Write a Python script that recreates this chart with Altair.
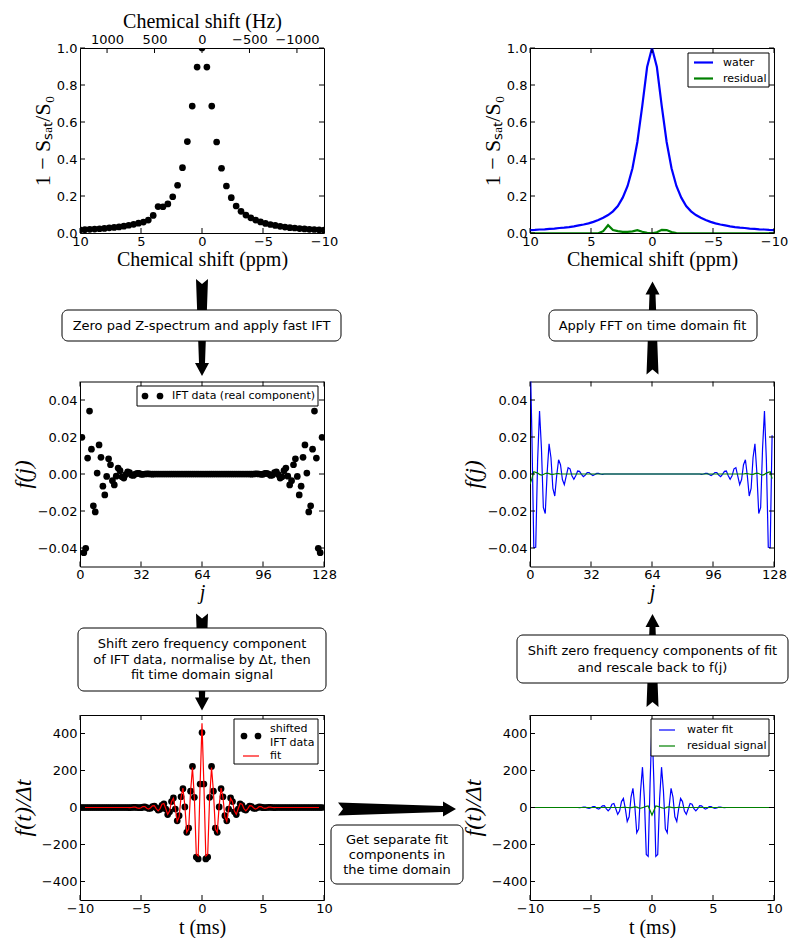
import altair as alt
import pandas as pd

W, H = 244, 185
TICK = 5
LABEL_FONT = "DejaVu Sans"
TITLE_FONT = "Liberation Serif"
BLUE, GREEN, RED = "#0000ff", "#008000", "#ff0000"

# ---------------- frequency domain (ppm) ----------------
PPM = [10.0, 9.6, 9.2, 8.8, 8.4, 8.0, 7.6, 7.2, 6.8, 6.4,
       6.0, 5.6, 5.2, 4.8, 4.4, 4.0, 3.6, 3.2, 2.8, 2.4,
       2.0, 1.6, 1.2, 0.8, 0.4, 0.0,
       -0.4, -0.8, -1.2, -1.6, -2.0, -2.4, -2.8, -3.2, -3.6, -4.0,
       -4.4, -4.8, -5.2, -5.6, -6.0, -6.4, -6.8, -7.2, -7.6, -8.0,
       -8.4, -8.8, -9.2, -9.6, -10.0]
Z_SPECTRUM = [0.017, 0.018, 0.020, 0.021, 0.023, 0.025, 0.028, 0.030, 0.033, 0.037,
              0.042, 0.047, 0.053, 0.059, 0.070, 0.095, 0.143, 0.142, 0.157, 0.196,
              0.258, 0.353, 0.494, 0.686, 0.897, 1.000,
              0.897, 0.686, 0.492, 0.350, 0.254, 0.191, 0.146, 0.117, 0.097, 0.082,
              0.070, 0.060, 0.052, 0.046, 0.041, 0.036, 0.032, 0.029, 0.027, 0.024,
              0.022, 0.020, 0.019, 0.017, 0.016]
WATER_PPM = [0.016, 0.017, 0.019, 0.020, 0.022, 0.024, 0.027, 0.029, 0.032, 0.036,
             0.041, 0.046, 0.052, 0.060, 0.070, 0.082, 0.097, 0.117, 0.146, 0.191,
             0.254, 0.350, 0.492, 0.686, 0.897, 1.000,
             0.897, 0.686, 0.492, 0.350, 0.254, 0.191, 0.146, 0.117, 0.097, 0.082,
             0.070, 0.060, 0.052, 0.046, 0.041, 0.036, 0.032, 0.029, 0.027, 0.024,
             0.022, 0.020, 0.019, 0.017, 0.016]
RESIDUAL_PPM = [-0.002, -0.002, -0.002, -0.002, -0.002, -0.002, -0.002, -0.002, -0.002, -0.002,
                -0.002, -0.002, -0.002, -0.002, -0.002, 0.010, 0.042, 0.016, 0.010, 0.006,
                0.006, 0.009, 0.015, 0.007, 0.001, -0.002,
                0.004, 0.017, 0.016, 0.005, 0.000, -0.002, -0.002, -0.002, -0.002, -0.002,
                -0.002, -0.002, -0.002, -0.002, -0.002, -0.002, -0.002, -0.002, -0.002, -0.002,
                -0.002, -0.002, -0.002, -0.002, -0.002]

# ---------------- index domain (j) ----------------
J_INDEX = list(range(128))
IFT_DATA = ([0.0633, 0.0198, -0.0425, -0.0402, 0.0086, 0.0340, 0.0134, -0.0172, -0.0205, 0.0005,
             0.0157, 0.0090, -0.0066, -0.0113, -0.0013, 0.0082, 0.0050, -0.0036, -0.0059, -0.0012,
             0.0032, 0.0018, -0.0015, -0.0022, -0.0003, 0.0012, 0.0008, -0.0006, -0.0008, 0.0000,
             0.0004, 0.0003, -0.0002, -0.0002, 0.0000, 0.0001, 0.0001, 0.0000, -0.0001, 0.0000]
            + [0.0] * 50 +
            [-0.0001, 0.0000, 0.0001, 0.0001, 0.0000, -0.0002, -0.0002, 0.0003, 0.0004, 0.0000,
             -0.0008, -0.0006, 0.0008, 0.0012, -0.0003, -0.0022, -0.0015, 0.0018, 0.0032, -0.0012,
             -0.0059, -0.0036, 0.0050, 0.0082, -0.0013, -0.0113, -0.0066, 0.0090, 0.0157, 0.0005,
             -0.0205, -0.0172, 0.0134, 0.0340, 0.0086, -0.0402, -0.0425, 0.0198])
WATER_FIT_J = ([0.0706, 0.0209, -0.0398, -0.0396, 0.0075, 0.0341, 0.0139, -0.0181, -0.0214, 0.0008,
                0.0163, 0.0088, -0.0078, -0.0119, -0.0009, 0.0077, 0.0050, -0.0030, -0.0058, -0.0011,
                0.0034, 0.0028, -0.0009, -0.0028, -0.0009, 0.0016, 0.0014, -0.0002, -0.0014, -0.0006,
                0.0008, 0.0008, -0.0002, -0.0008, -0.0003, 0.0003, 0.0003, 0.0000, -0.0002, 0.0000]
               + [0.0] * 50 +
               [-0.0002, 0.0000, 0.0003, 0.0003, -0.0003, -0.0008, -0.0002, 0.0008, 0.0008, -0.0006,
                -0.0014, -0.0002, 0.0014, 0.0016, -0.0009, -0.0028, -0.0009, 0.0028, 0.0034, -0.0011,
                -0.0058, -0.0030, 0.0050, 0.0077, -0.0009, -0.0119, -0.0078, 0.0088, 0.0163, 0.0008,
                -0.0214, -0.0181, 0.0139, 0.0341, 0.0075, -0.0396, -0.0398, 0.0209])
RESIDUAL_J = ([-0.0055, -0.0025, 0.0012, 0.0009, 0.0005, -0.0002, -0.0006, -0.0003, 0.0003, 0.0005,
               0.0002, -0.0002, -0.0002, 0.0000, 0.0002, 0.0002]
              + [0.0] * 96 +
              [0.0000, 0.0002, 0.0002, 0.0000, -0.0002, -0.0002, 0.0002, 0.0005,
               0.0003, -0.0003, -0.0006, -0.0002, 0.0005, 0.0009, 0.0012, -0.0025])

# ---------------- time domain (ms) ----------------
T_MS = [-10 + 0.15625 * k for k in range(128)]
SHIFTED_DATA = ([0] * 26 +
                [-1, 0, 1, 1, 0, -1, -1, 2, 3, 0, -5, -4, 5, 8, -2, -14, -10, 12, 20, -8,
                 -38, -23, 32, 52, -8, -72, -44, 58, 102, 3, -134, -112, 88, 222, 55, -268, -278, 127,
                 405,
                 127, -278, -268, 55, 222, 88, -112, -134, 3, 102, 58, -44, -72, -8, 52, 32, -23, -38,
                 -8, 20, 12, -10, -14, -2, 8, 5, -4, -5, 0, 3, 2, -1, -1, 0, 1, 1, 0, -1]
                + [0] * 25)
FIT_TOTAL = ([0] * 26 +
             [-1, 0, 2, 2, -2, -5, -1, 5, 5, -4, -9, -1, 9, 10, -6, -18, -6, 18, 22, -7,
              -37, -19, 32, 50, -5, -75, -51, 55, 105, 9, -134, -117, 85, 216, 52, -252, -262, 120,
              455,
              120, -262, -252, 52, 216, 85, -117, -134, 9, 105, 55, -51, -75, -5, 50, 32, -19, -37,
              -7, 22, 18, -6, -18, -6, 10, 9, -1, -9, -4, 5, 5, -1, -5, -2, 2, 2, 0, -1]
             + [0] * 25)
WATER_FIT_T = ([0] * 26 +
               [-1, 0, 2, 2, -2, -5, -1, 5, 5, -4, -9, -1, 9, 10, -6, -18, -6, 18, 22, -7,
                -37, -19, 32, 49, -6, -76, -50, 56, 104, 5, -137, -116, 89, 218, 48, -254, -264, 134,
                452,
                134, -264, -254, 48, 218, 89, -116, -137, 5, 104, 56, -50, -76, -6, 49, 32, -19, -37,
                -7, 22, 18, -6, -18, -6, 10, 9, -1, -9, -4, 5, 5, -1, -5, -2, 2, 2, 0, -1]
               + [0] * 25)
RESIDUAL_T = ([0] * 49 +
              [1, 1, 0, -1, -1, 1, 3, 2, -2, -4, -1, 3, 6, 8, -16,
               -41,
               -16, 8, 6, 3, -1, -4, -2, 2, 3, 1, -1, -1, 0, 1, 1]
              + [0] * 48)

# ---------------- ticks ----------------
PPM_TICKS = [10, 5, 0, -5, -10]
HZ_TICKS = [1000, 500, 0, -500, -1000]
Z_TICKS = [0.0, 0.2, 0.4, 0.6, 0.8, 1.0]
J_TICKS = [0, 32, 64, 96, 128]
FJ_TICKS = [-0.04, -0.02, 0.0, 0.02, 0.04]
T_TICKS = [-10, -5, 0, 5, 10]
FT_TICKS = [-400, -200, 0, 200, 400]

ONE = pd.DataFrame({"k": [0]})
MINUS = "replace(datum.label, '-', '\u2212')"


def bottom_axis(title, values, fmt, title_y, italic=False):
    return alt.Axis(orient="bottom", values=values, format=fmt, title=title, labelExpr=MINUS,
                    titleX=W / 2, titleY=title_y, titleAlign="center", titleBaseline="alphabetic",
                    titleAngle=0, titleFontStyle="italic" if italic else "normal", labelPadding=2)


def left_axis(title, values, fmt, title_x, size=22, italic=False):
    return alt.Axis(orient="left", values=values, format=fmt, title=title, labelExpr=MINUS,
                    titleX=title_x, titleY=H / 2, titleAngle=270, titleAlign="center",
                    titleBaseline="alphabetic", titleFontSize=size,
                    titleFontStyle="italic" if italic else "normal", labelPadding=3)


def xs(field, domain, axis, reverse=False):
    return alt.X(f"{field}:Q", scale=alt.Scale(domain=domain, reverse=reverse, nice=False, zero=False), axis=axis)


def ys(field, domain, axis):
    return alt.Y(f"{field}:Q", scale=alt.Scale(domain=domain, nice=False, zero=False), axis=axis)


def tick_layers(xe, ye, xcol, ycol, xt, yt, top=True):
    dx = pd.DataFrame({xcol: xt})
    dy = pd.DataFrame({ycol: yt})
    st = dict(color="black", strokeWidth=1)
    out = [
        alt.Chart(dx).mark_rule(**st).encode(x=xe, y=alt.value(H), y2=alt.value(H - TICK)),
        alt.Chart(dy).mark_rule(**st).encode(y=ye, x=alt.value(0), x2=alt.value(TICK)),
        alt.Chart(dy).mark_rule(**st).encode(y=ye, x=alt.value(W), x2=alt.value(W - TICK)),
    ]
    if top:
        out.append(alt.Chart(dx).mark_rule(**st).encode(x=xe, y=alt.value(0), y2=alt.value(TICK)))
    return out


def box(x0, x1, y0, y1, radius=6):
    return alt.Chart(ONE).mark_rect(fill="white", stroke="black", strokeWidth=1, cornerRadius=radius).encode(
        x=alt.value(x0), x2=alt.value(x1), y=alt.value(y0), y2=alt.value(y1))


def label(x, y, text, size=13, align="center", lh=15.5):
    # y is the vertical centre of the whole text block
    n = text.count("\n") + 1
    y0 = y - (n - 1) * lh / 2
    return alt.Chart(ONE).mark_text(font=LABEL_FONT, fontSize=size, align=align, baseline="middle",
                                    lineBreak="\n", lineHeight=lh, color="black").encode(
        x=alt.value(x), y=alt.value(y0), text=alt.value(text))


def arrow(x, y, path):
    return alt.Chart(ONE).mark_point(shape=path, size=4, filled=True, color="black", opacity=1,
                                     strokeWidth=0).encode(x=alt.value(x), y=alt.value(y))


def seg(x0, x1, y, color, width):
    return alt.Chart(ONE).mark_rule(color=color, strokeWidth=width).encode(
        x=alt.value(x0), x2=alt.value(x1), y=alt.value(y))


def dot(x, y):
    return alt.Chart(ONE).mark_circle(size=45, color="black", opacity=1).encode(x=alt.value(x), y=alt.value(y))


DOWN = "M0,0 L-7,-13 L-3,-13 L-6,-97 L0,-92 L6,-97 L3,-13 L7,-13 Z"
UP = "M0,0 L-7,13 L-3,13 L-6,93 L0,88 L6,93 L3,13 L7,13 Z"
RIGHT = "M0,0 L-13,-7.5 L-13,-3 L-118,-6.5 L-113,0 L-118,6.5 L-13,3 L-13,7.5 Z"

# ---------------- top-left: Z-spectrum ----------------
tl_x = xs("ppm", [-10, 10], bottom_axis("Chemical shift (ppm)", PPM_TICKS, "d", 32), reverse=True)
tl_y = ys("val", [0, 1], left_axis("1 − Sₛₐₜ/S₀", Z_TICKS, ".1f", -31))
tl_pts = alt.Chart(pd.DataFrame({"ppm": PPM, "val": Z_SPECTRUM})).mark_circle(
    size=45, color="black", opacity=1, clip=True).encode(x=tl_x, y=tl_y)
anchor = alt.Chart(ONE).mark_point(shape="square", filled=True, size=1, color="white", opacity=1).encode(
    x=alt.value(-70.5), y=alt.value(-38.5))
tl_main = alt.layer(
    tl_pts, *tick_layers(tl_x, tl_y, "ppm", "val", PPM_TICKS, Z_TICKS, top=False),
    arrow(122, 328, DOWN), box(-18, 261, 262, 293),
    label(121.5, 277.5, "Zero pad Z-spectrum and apply fast IFT"), anchor)
hz_axis = alt.Axis(orient="top", values=HZ_TICKS, format="d", title="Chemical shift (Hz)", labelExpr=MINUS,
                   titleX=W / 2, titleY=-21, titleAlign="center", titleBaseline="alphabetic",
                   titleAngle=0, labelPadding=2)
hz_x = xs("hz", [-1285, 1285], hz_axis, reverse=True)
hz_layer = alt.Chart(pd.DataFrame({"hz": HZ_TICKS})).mark_rule(color="black", strokeWidth=1).encode(
    x=hz_x, y=alt.value(0), y2=alt.value(TICK))
TL = alt.layer(tl_main, hz_layer).resolve_scale(x="independent").properties(width=W, height=H)

# ---------------- top-right: fitted spectrum ----------------
tr_x = xs("ppm", [-10, 10], bottom_axis("Chemical shift (ppm)", PPM_TICKS, "d", 32), reverse=True)
tr_y = ys("val", [0, 1], left_axis("1 − Sₛₐₜ/S₀", Z_TICKS, ".1f", -31))
tr_water = alt.Chart(pd.DataFrame({"ppm": PPM, "val": WATER_PPM})).mark_line(
    color=BLUE, strokeWidth=2.2, clip=True).encode(x=tr_x, y=tr_y)
tr_res = alt.Chart(pd.DataFrame({"ppm": PPM, "val": RESIDUAL_PPM})).mark_line(
    color=GREEN, strokeWidth=2.2, clip=True).encode(x=tr_x, y=tr_y)
TR = alt.layer(
    tr_water, tr_res, *tick_layers(tr_x, tr_y, "ppm", "val", PPM_TICKS, Z_TICKS),
    box(158, 239, 5, 39, radius=0),
    seg(164, 183, 14.5, BLUE, 2.2), seg(164, 183, 30.5, GREEN, 2.2),
    label(193, 14.5, "water", size=11, align="left"), label(193, 30.5, "residual", size=11, align="left"),
).properties(width=W, height=H)

# ---------------- middle-left: IFT data ----------------
ml_x = xs("j", [0, 128], bottom_axis("j", J_TICKS, "d", 32, italic=True))
ml_y = ys("val", [-0.05, 0.05], left_axis("f(j)", FJ_TICKS, ".2f", -50, size=23, italic=True))
ml_pts = alt.Chart(pd.DataFrame({"j": J_INDEX, "val": IFT_DATA})).mark_circle(
    size=45, color="black", opacity=1, clip=True).encode(x=ml_x, y=ml_y)
ML = alt.layer(
    ml_pts, *tick_layers(ml_x, ml_y, "j", "val", J_TICKS, FJ_TICKS),
    box(57, 238, 4.5, 24.5, radius=0), dot(65, 14.5), dot(80, 14.5),
    label(92, 14.5, "IFT data (real component)", size=11, align="left"),
    arrow(122, 329, DOWN), box(-2, 246, 246.5, 309.5),
    label(122, 278, "Shift zero frequency component\nof IFT data, normalise by Δt, then\nfit time domain signal"),
).properties(width=W, height=H)

# ---------------- middle-right: fit back in j ----------------
mr_x = xs("j", [0, 128], bottom_axis("j", J_TICKS, "d", 32, italic=True))
mr_y = ys("val", [-0.05, 0.05], left_axis("f(j)", FJ_TICKS, ".2f", -50, size=23, italic=True))
mr_water = alt.Chart(pd.DataFrame({"j": J_INDEX, "val": WATER_FIT_J})).mark_line(
    color=BLUE, strokeWidth=1.2, clip=True).encode(x=mr_x, y=mr_y)
mr_res = alt.Chart(pd.DataFrame({"j": J_INDEX, "val": RESIDUAL_J})).mark_line(
    color=GREEN, strokeWidth=1.2, clip=True).encode(x=mr_x, y=mr_y)
MR = alt.layer(
    mr_water, mr_res, *tick_layers(mr_x, mr_y, "j", "val", J_TICKS, FJ_TICKS),
    arrow(122.5, -100, UP), box(19, 227, -71.5, -40.5),
    label(122.5, -56, "Apply FFT on time domain fit"),
).properties(width=W, height=H)

# ---------------- bottom-left: shifted data + fit ----------------
bl_x = xs("t", [-10, 10], bottom_axis("t (ms)", T_TICKS, "d", 33))
bl_y = ys("val", [-500, 500], left_axis("f(t)/Δt", FT_TICKS, "d", -50, size=24, italic=True))
bl_pts = alt.Chart(pd.DataFrame({"t": T_MS, "val": SHIFTED_DATA})).mark_circle(
    size=45, color="black", opacity=1, clip=True).encode(x=bl_x, y=bl_y)
bl_fit = alt.Chart(pd.DataFrame({"t": T_MS, "val": FIT_TOTAL})).mark_line(
    color=RED, strokeWidth=1.2, clip=True).encode(x=bl_x, y=bl_y)
BL = alt.layer(
    bl_pts, bl_fit, *tick_layers(bl_x, bl_y, "t", "val", T_TICKS, FT_TICKS),
    box(154, 238, 4, 49, radius=0), dot(164, 21), dot(178, 21),
    label(190, 21, "shifted\nIFT data", size=11, align="left", lh=13.5),
    seg(163, 179, 41, RED, 1.2), label(190, 41, "fit", size=11, align="left"),
    arrow(376, 94, RIGHT), box(251, 383, 110, 169),
    label(317, 139.5, "Get separate fit\ncomponents in\nthe time domain", lh=15),
).properties(width=W, height=H)

# ---------------- bottom-right: separated components ----------------
br_x = xs("t", [-10, 10], bottom_axis("t (ms)", T_TICKS, "d", 33))
br_y = ys("val", [-500, 500], left_axis("f(t)/Δt", FT_TICKS, "d", -50, size=24, italic=True))
br_water = alt.Chart(pd.DataFrame({"t": T_MS, "val": WATER_FIT_T})).mark_line(
    color=BLUE, strokeWidth=1.2, clip=True).encode(x=br_x, y=br_y)
br_res = alt.Chart(pd.DataFrame({"t": T_MS, "val": RESIDUAL_T})).mark_line(
    color=GREEN, strokeWidth=1.2, clip=True).encode(x=br_x, y=br_y)
BR = alt.layer(
    br_water, br_res, *tick_layers(br_x, br_y, "t", "val", T_TICKS, FT_TICKS),
    box(121, 239, 4, 41, radius=0),
    seg(129, 145, 15, BLUE, 1.2), seg(129, 145, 31, GREEN, 1.2),
    label(157, 15, "water fit", size=11, align="left"), label(157, 31, "residual signal", size=11, align="left"),
    arrow(122.5, -101, UP), box(-13, 258, -80, -32),
    label(122.5, -56, "Shift zero frequency components of fit\nand rescale back to f(j)", lh=17),
).properties(width=W, height=H)

chart = alt.concat(
    TL, TR, ML, MR, BL, BR, columns=2,
    spacing={"row": 148.5, "column": 206}, bounds="flush",
).properties(padding=0).configure_view(stroke="black", strokeWidth=1).configure_axis(
    labelFont=LABEL_FONT, labelFontSize=13, labelColor="black",
    titleFont=TITLE_FONT, titleFontSize=20, titleFontWeight="normal", titleColor="black",
    ticks=False, domain=False, grid=False, labelFlush=False, labelOverlap=False,
)

chart.save("out.html", embed_options={"renderer": "svg", "actions": False})
